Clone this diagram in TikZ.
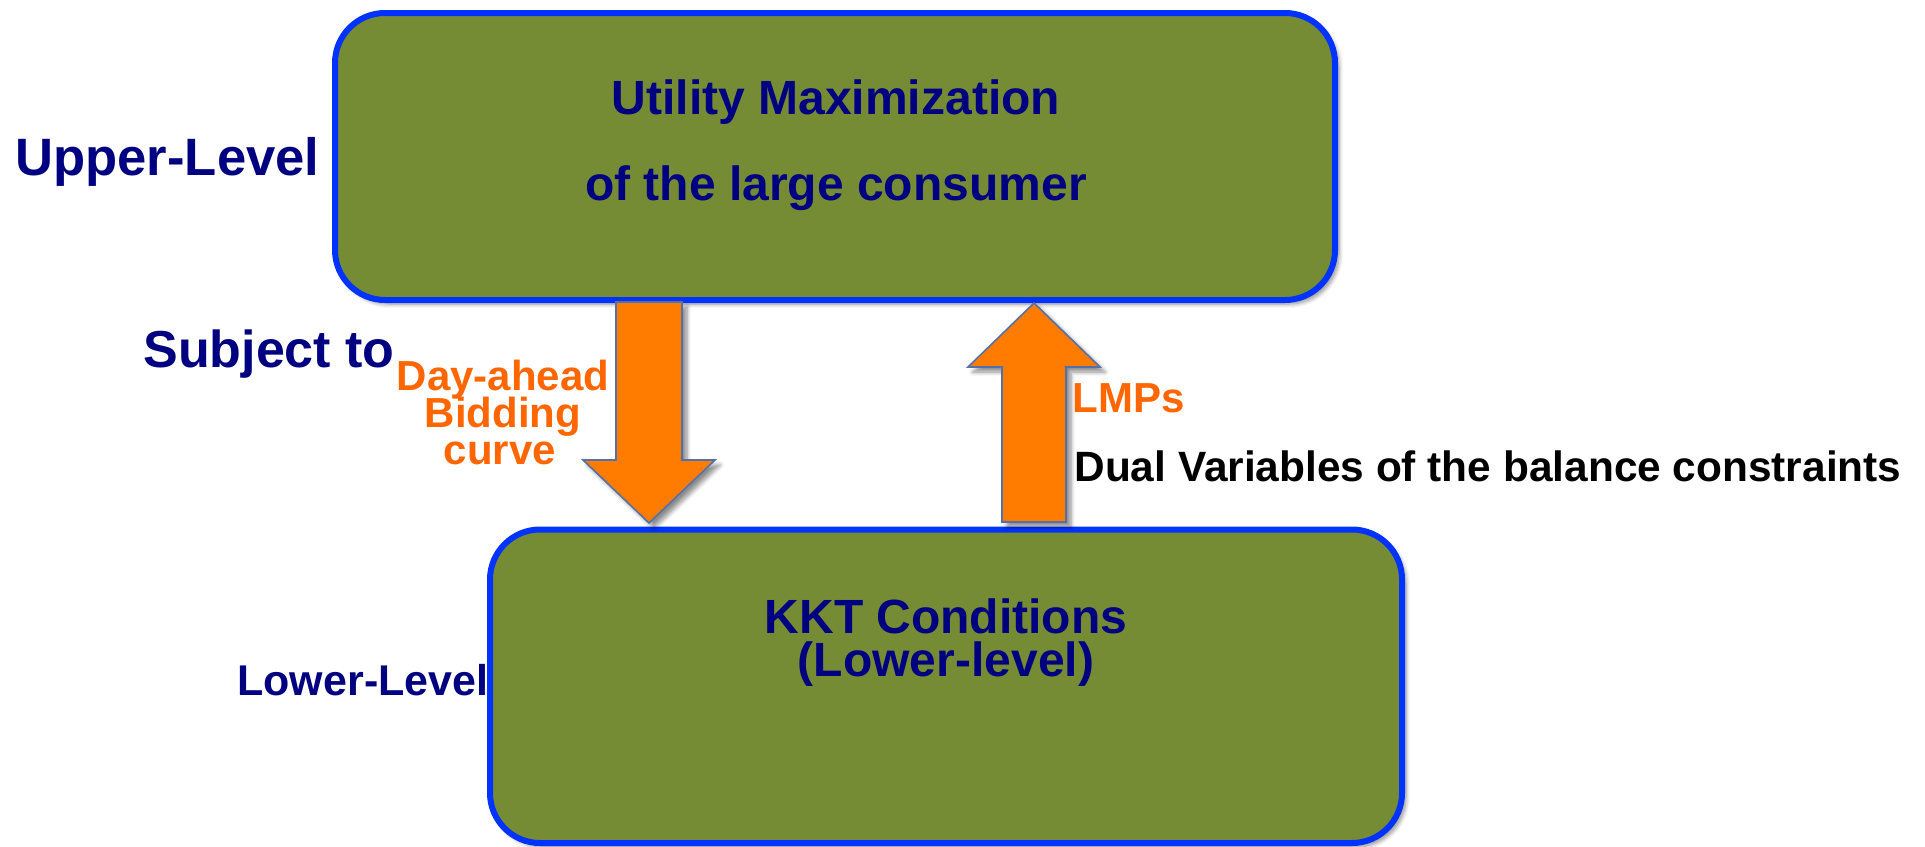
\documentclass[tikz,border=0pt]{standalone}
\usepackage{fontspec}
\setmainfont{Liberation Sans}
\usetikzlibrary{shadows.blur,calc}

\definecolor{boxfill}{RGB}{118,140,52}
\definecolor{boxline}{RGB}{0,51,255}
\definecolor{navy}{RGB}{0,0,128}
\definecolor{lblorange}{RGB}{255,102,0}
\definecolor{arrfill}{RGB}{255,124,0}
\definecolor{arrline}{RGB}{84,112,168}

\tikzset{
  levelbox/.style={draw=boxline, line width=3pt, fill=boxfill, rounded corners=25pt,
    blur shadow={shadow xshift=2pt, shadow yshift=-2pt, shadow blur steps=6, shadow opacity=45}},
  blockarrow/.style={draw=arrline, line width=0.8pt, fill=arrfill, line join=miter,
    blur shadow={shadow xshift=2.5pt, shadow yshift=-2.5pt, shadow blur steps=6, shadow opacity=45}},
  txt/.style={inner sep=0pt, anchor=base, font=\bfseries},
  boxtxt/.style={txt, text=navy, font=\bfseries\fontsize{24}{28}\selectfont},
  sidetxt/.style={txt, anchor=base west, text=navy},
  orangetxt/.style={txt, text=lblorange, font=\bfseries\fontsize{21}{25}\selectfont},
}

\begin{document}
\begin{tikzpicture}[x=0.5pt, y=-0.5pt]
\useasboundingbox (0,0) rectangle (1925,846);

% the two optimisation levels
\node[levelbox, minimum width=500pt, minimum height=143.5pt] (upper) at (835,156.5) {};
\node[levelbox, minimum width=456pt, minimum height=156.75pt] (lower) at (946,686.25) {};

\node[boxtxt] (ut1) at (836,114) {Utility Maximization};
\node[boxtxt] (ut2) at (836,200) {of the large consumer};
\node[boxtxt] (lt1) at (946,633) {KKT Conditions};
\node[boxtxt] (lt2) at (946,676) {(Lower-level)};

% level captions
\node[sidetxt, font=\bfseries\fontsize{26.3}{30}\selectfont] (ulev) at (15,175) {Upper-Level};
\node[sidetxt, font=\bfseries\fontsize{26}{30}\selectfont] (subj) at (143,367) {Subject to};
\node[sidetxt, font=\bfseries\fontsize{21.5}{25}\selectfont] (llev) at (237,695) {Lower-Level};

% block arrows between the levels
\coordinate (dtop) at (649,302);
\coordinate (dtip) at (649,523);
\draw[blockarrow] ($(dtop)+(-33,0)$) -- ($(dtop)+(33,0)$) -- (682,460) -- (715,460)
  -- (dtip) -- (583,460) -- (616,460) -- cycle;

\coordinate (utip) at (1034,303);
\coordinate (ubot) at (1034,522);
\draw[blockarrow] (utip) -- (1100,367) -- (1066,367) -- (1066,522) -- (1002,522)
  -- (1002,367) -- (968,367) -- cycle;

% arrow labels
\node[orangetxt] (da1) at (503,390) {Day-ahead};
\node[orangetxt] (da2) at (503,427) {Bidding};
\node[orangetxt] (da3) at (500,464) {curve};
\node[orangetxt, anchor=base west] (lmp) at (1072,412) {LMPs};
\node[txt, anchor=base west, text=black, font=\bfseries\fontsize{21.2}{25}\selectfont] (dual) at (1074,481)
  {Dual Variables of the balance constraints};
\end{tikzpicture}
\end{document}
